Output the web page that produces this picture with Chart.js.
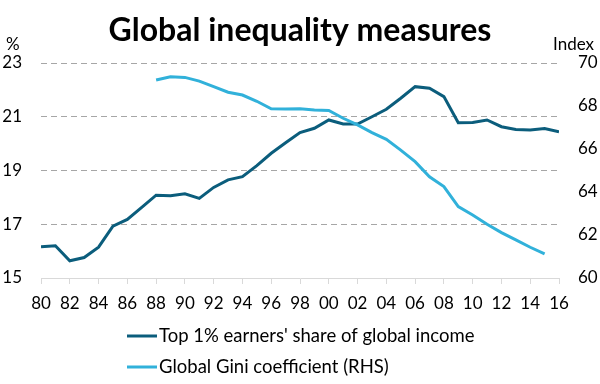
<!DOCTYPE html>
<html>
<head>
<meta charset="utf-8">
<script src="https://cdn.jsdelivr.net/npm/chart.js@4"></script>
<style>
  body { margin: 0; background: #fff; }
  #wrap { width: 600px; height: 384px; position: relative; }
</style>
</head>
<body>
<div id="wrap"><canvas id="lineChart"></canvas></div>
<script>
// Data
var years = [];
for (var yr = 1980; yr <= 2016; yr++) years.push(yr);

var top1Share = [16.16, 16.2, 15.64, 15.76, 16.15, 16.93, 17.18, 17.63, 18.08, 18.06,
                 18.13, 17.96, 18.37, 18.65, 18.77, 19.18, 19.64, 20.03, 20.41, 20.57,
                 20.88, 20.73, 20.73, 21.0, 21.28, 21.69, 22.12, 22.06, 21.75, 20.78,
                 20.79, 20.88, 20.63, 20.53, 20.51, 20.56, 20.44];

var giniIndex = [null, null, null, null, null, null, null, null, 69.21, 69.36,
                 69.33, 69.16, 68.9, 68.64, 68.51, 68.22, 67.87, 67.86, 67.87, 67.81,
                 67.79, 67.43, 67.12, 66.76, 66.45, 65.95, 65.41, 64.71, 64.25, 63.32,
                 62.93, 62.5, 62.11, 61.77, 61.43, 61.12, null];

var leftTicks = [15, 17, 19, 21, 23];
var rightTicks = [60, 62, 64, 66, 68, 70];

var seriesNames = ["Top 1% earners' share of global income", 'Global Gini coefficient (RHS)'];
var seriesColors = ['#0b5d7c', '#31b1da'];

var FONT = 'Lato, "Open Sans", sans-serif';

function points(vals) {
	return years.map(function(y, i){ return { x: y, y: vals[i] }; });
}

// Titles, axis units and the stacked legend
var decorations = {
	id: 'decorations',
	afterDraw: function(chart) {
		var c = chart.ctx;
		c.save();
		c.fillStyle = '#000';
		c.textBaseline = 'alphabetic';
		c.font = 'bold 32px ' + FONT;
		c.textAlign = 'center';
		c.fillText('Global inequality measures', 300, 41);

		c.font = '17px ' + FONT;
		c.textAlign = 'left';
		c.fillText('%', 6, 50);
		c.textAlign = 'right';
		c.fillText('Index', 594, 50);

		// legend
		c.font = '18.5px ' + FONT;
		c.textAlign = 'left';
		c.textBaseline = 'middle';
		var rows = [336, 367];
		for (var i = 0; i < seriesNames.length; i++) {
			c.strokeStyle = seriesColors[i];
			c.lineWidth = 3;
			c.beginPath();
			c.moveTo(127, rows[i]);
			c.lineTo(157, rows[i]);
			c.stroke();
			c.fillStyle = '#000';
			c.fillText(seriesNames[i], 159, rows[i]);
		}
		c.restore();
	}
};

var ctx = document.getElementById('lineChart').getContext('2d');
var lineChart = new Chart(ctx, {
	type: 'line',
	data: {
		datasets: [{
			label: seriesNames[0],
			data: points(top1Share),
			yAxisID: 'yL',
			borderColor: seriesColors[0],
			backgroundColor: seriesColors[0],
			borderWidth: 3,
			pointRadius: 0,
			tension: 0,
			fill: false,
			order: 2
		},
		{
			label: seriesNames[1],
			data: points(giniIndex),
			yAxisID: 'yR',
			borderColor: seriesColors[1],
			backgroundColor: seriesColors[1],
			borderWidth: 3,
			pointRadius: 0,
			tension: 0,
			fill: false,
			spanGaps: false,
			order: 1
		}]
	},
	options: {
		responsive: true,
		maintainAspectRatio: false,
		animation: false,
		layout: { padding: { top: 63, left: 0, right: 0, bottom: 0 } },
		plugins: {
			legend: { display: false },
			tooltip: { enabled: false }
		},
		scales: {
			x: {
				type: 'linear',
				min: years[0],
				max: years[years.length - 1],
				afterFit: function(s){ s.height = 106; },
				afterBuildTicks: function(s){
					s.ticks = years.filter(function(y){ return y % 2 === 0; }).map(function(y){ return { value: y }; });
				},
				ticks: {
					autoSkip: false,
					maxRotation: 0,
					padding: 9,
					color: '#000',
					font: { family: FONT, size: 17 },
					callback: function(v){ return String(v % 100).padStart(2, '0'); }
				},
				grid: {
					drawOnChartArea: false,
					drawTicks: true,
					tickLength: 6,
					tickColor: '#d9d9d9'
				},
				border: { display: true, color: '#d9d9d9', width: 1 }
			},
			yL: {
				position: 'left',
				min: leftTicks[0],
				max: leftTicks[leftTicks.length - 1],
				afterFit: function(s){ s.width = 41; },
				afterBuildTicks: function(s){ s.ticks = leftTicks.map(function(v){ return { value: v }; }); },
				ticks: {
					padding: 19,
					color: '#000',
					font: { family: FONT, size: 17 }
				},
				grid: {
					drawTicks: false,
					color: function(c){ return c.tick && c.tick.value === leftTicks[0] ? 'rgba(0,0,0,0)' : '#a6a6a6'; },
					lineWidth: 1
				},
				border: { display: false, dash: [6, 4] }
			},
			yR: {
				position: 'right',
				min: rightTicks[0],
				max: rightTicks[rightTicks.length - 1],
				afterFit: function(s){ s.width = 41; },
				afterBuildTicks: function(s){ s.ticks = rightTicks.map(function(v){ return { value: v }; }); },
				ticks: {
					padding: 19,
					color: '#000',
					font: { family: FONT, size: 17 }
				},
				grid: { drawOnChartArea: false, drawTicks: false },
				border: { display: false }
			}
		}
	},
	plugins: [decorations]
});
</script>
</body>
</html>
